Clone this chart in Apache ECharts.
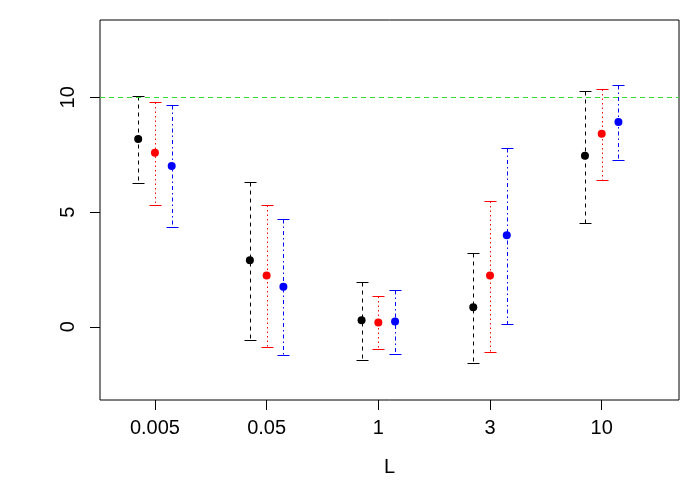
<!DOCTYPE html>
<html>
<head>
<meta charset="utf-8">
<script src="https://cdn.jsdelivr.net/npm/echarts@6/dist/echarts.min.js"></script>
<style>
  html, body { margin: 0; padding: 0; background: #fff; }
  #chart { width: 700px; height: 500px; }
</style>
</head>
<body>
<div id="chart"></div>
<script>
// categories on the x axis (placed at 0..4)
const categories = ['0.005', '0.05', '1', '3', '10'];
const yTicks = [0, 5, 10];

// three groups, each drawn slightly offset from its category
const blackMean = [8.18, 2.90, 0.29, 0.85, 7.45];
const blackLow  = [6.28, -0.58, -1.46, -1.59, 4.53];
const blackHigh = [10.06, 6.33, 1.95, 3.22, 10.26];

const redMean = [7.58, 2.24, 0.19, 2.24, 8.41];
const redLow  = [5.32, -0.89, -0.98, -1.11, 6.41];
const redHigh = [9.78, 5.32, 1.34, 5.50, 10.35];

const blueMean = [7.01, 1.75, 0.23, 3.99, 8.93];
const blueLow  = [4.36, -1.24, -1.19, 0.12, 7.26];
const blueHigh = [9.65, 4.71, 1.60, 7.81, 10.52];

const refLine = 10;

const groups = [
  { color: '#000000', dash: [4, 4], off: -0.15, mean: blackMean, low: blackLow, high: blackHigh },
  { color: '#ff0000', dash: [1.5, 3], off: 0, mean: redMean, low: redLow, high: redHigh },
  { color: '#0000ff', dash: [4, 3, 1.5, 3], off: 0.15, mean: blueMean, low: blueLow, high: blueHigh }
];

const FONT = "'Liberation Sans', Arial, sans-serif";
const CAP = 6;

function errorBar(g) {
  return function (params, api) {
    const x = api.value(0);
    const top = api.coord([x, api.value(2)]);
    const bot = api.coord([x, api.value(1)]);
    const px = Math.round(top[0]) + 0.5;
    const ty = Math.round(top[1]) + 0.5;
    const by = Math.round(bot[1]) + 0.5;
    return {
      type: 'group',
      children: [
        { type: 'line', shape: { x1: px, y1: ty, x2: px, y2: by },
          style: { stroke: g.color, lineWidth: 1, lineDash: g.dash } },
        { type: 'line', shape: { x1: px - CAP, y1: ty, x2: px + CAP, y2: ty },
          style: { stroke: g.color, lineWidth: 1 } },
        { type: 'line', shape: { x1: px - CAP, y1: by, x2: px + CAP, y2: by },
          style: { stroke: g.color, lineWidth: 1 } }
      ]
    };
  };
}

const series = [];
groups.forEach(function (g, gi) {
  const bars = categories.map(function (c, i) { return [i + g.off, g.low[i], g.high[i]]; });
  const pts = categories.map(function (c, i) { return [i + g.off, g.mean[i]]; });
  series.push({
    type: 'custom',
    renderItem: errorBar(g),
    encode: { x: 0, y: [1, 2] },
    data: bars,
    silent: true,
    z: 2
  });
  series.push({
    type: 'scatter',
    data: pts,
    symbol: 'circle',
    symbolSize: 8,
    itemStyle: { color: g.color, opacity: 1 },
    silent: true,
    z: 3,
    markLine: gi === 0 ? {
      silent: true,
      symbol: 'none',
      label: { show: false },
      lineStyle: { color: '#33dd33', type: [5, 4], width: 1, opacity: 1 },
      data: [{ yAxis: refLine }]
    } : undefined
  });
});

const chart = echarts.init(document.getElementById('chart'));
chart.setOption({
  animation: false,
  backgroundColor: '#ffffff',
  grid: {
    left: 100, right: 21, top: 20, bottom: 100,
    show: true, borderColor: '#000', borderWidth: 1, backgroundColor: 'transparent'
  },
  xAxis: {
    type: 'value',
    min: -0.492, max: 4.692,
    name: 'L',
    nameLocation: 'middle',
    nameGap: 57,
    nameTextStyle: { fontFamily: FONT, fontSize: 20, color: '#000' },
    axisLine: { show: false, onZero: false },
    splitLine: { show: false },
    axisTick: { show: true, length: 10, lineStyle: { color: '#000' },
      customValues: categories.map(function (c, i) { return i; }) },
    axisLabel: {
      margin: 18, fontFamily: FONT, fontSize: 20, color: '#000',
      customValues: categories.map(function (c, i) { return i; }),
      formatter: function (v) { return categories[Math.round(v)]; }
    }
  },
  yAxis: {
    type: 'value',
    min: -3.19, max: 13.37,
    axisLine: { show: false, onZero: false },
    splitLine: { show: false },
    axisTick: { show: true, length: 10, lineStyle: { color: '#000' }, customValues: yTicks },
    axisLabel: {
      rotate: 90, margin: 22, fontFamily: FONT, fontSize: 20, color: '#000',
      customValues: yTicks
    }
  },
  series: series
});
</script>
</body>
</html>
